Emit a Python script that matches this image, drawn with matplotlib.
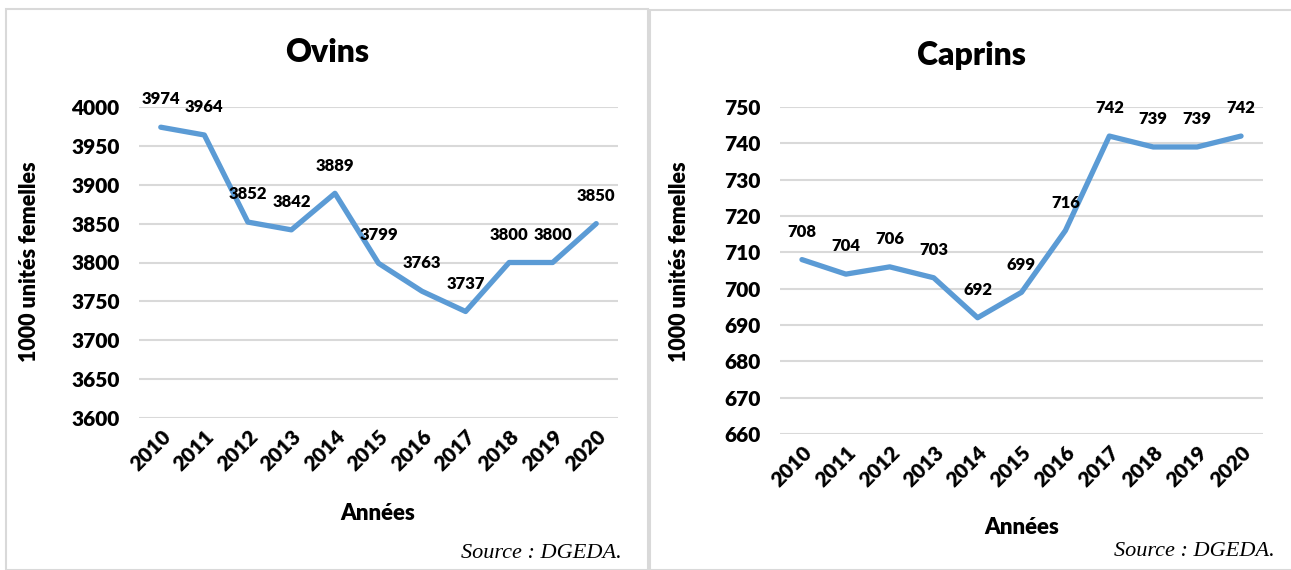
import matplotlib.pyplot as plt
from matplotlib.patches import Rectangle

years = ["2010", "2011", "2012", "2013", "2014", "2015", "2016", "2017", "2018", "2019", "2020"]
ovins = [3974, 3964, 3852, 3842, 3889, 3799, 3763, 3737, 3800, 3800, 3850]
caprins = [708, 704, 706, 703, 692, 699, 716, 742, 739, 739, 742]

plt.rcParams["font.family"] = ["Lato", "DejaVu Sans"]
plt.rcParams["font.weight"] = "heavy"

W, H = 1291, 570
fig = plt.figure(figsize=(W / 100, H / 100), dpi=100)

# panel frames
fig.patches.append(Rectangle((6 / W, 0), 642 / W, 1 - 9 / H, transform=fig.transFigure,
                             fill=False, edgecolor="#D9D9D9", lw=1.5))
fig.patches.append(Rectangle((650 / W, 0), 645 / W, 1 - 10 / H, transform=fig.transFigure,
                             fill=False, edgecolor="#D9D9D9", lw=1.5))


def panel(rect, values, ylim, step, title, title_xy, xlab_xy, ylab_x, src_xy):
    l, t, r, b = rect
    ax = fig.add_axes([l / W, 1 - b / H, (r - l) / W, (b - t) / H])
    x = list(range(len(years)))
    ax.plot(x, values, color="#5B9BD5", lw=3.8, solid_capstyle="round", zorder=3)
    ax.set_xlim(-0.5, len(years) - 0.5)
    ax.set_ylim(*ylim)
    ax.set_yticks(range(ylim[0], ylim[1] + 1, step))
    ax.grid(axis="y", color="#D9D9D9", lw=1.5)
    ax.set_axisbelow(True)
    for s in ax.spines.values():
        s.set_visible(False)
    ax.tick_params(length=0, labelsize=15, pad=14)
    ax.tick_params(axis="x", pad=6)
    ax.set_xticks(x)
    ax.set_xticklabels(years, rotation=45, ha="right", va="top", rotation_mode="anchor")
    for i, v in enumerate(values):
        ax.annotate(str(v), (i, v), xytext=(0, 20), textcoords="offset points",
                    ha="center", va="center", fontsize=12)
    fig.text(title_xy[0] / W, 1 - title_xy[1] / H, title, ha="center", va="center", fontsize=23)
    fig.text(xlab_xy[0] / W, 1 - xlab_xy[1] / H, "Années", ha="center", va="center", fontsize=16)
    fig.text(ylab_x / W, 1 - 262 / H, "1000 unités femelles", ha="center", va="center",
             rotation=90, fontsize=15.5)
    fig.text(src_xy[0] / W, 1 - src_xy[1] / H, "Source : DGEDA.", ha="right", va="center",
             fontsize=16, fontstyle="italic", fontweight="normal", family="Liberation Serif")
    return ax


panel((139, 107, 618, 418), ovins, (3600, 4000), 50, "Ovins", (327, 52), (378, 513), 30, (622, 553))
panel((780, 107, 1263, 434), caprins, (660, 750), 10, "Caprins", (972, 55), (1022, 527), 680, (1275, 551))

fig.savefig("out.png", dpi=100)
